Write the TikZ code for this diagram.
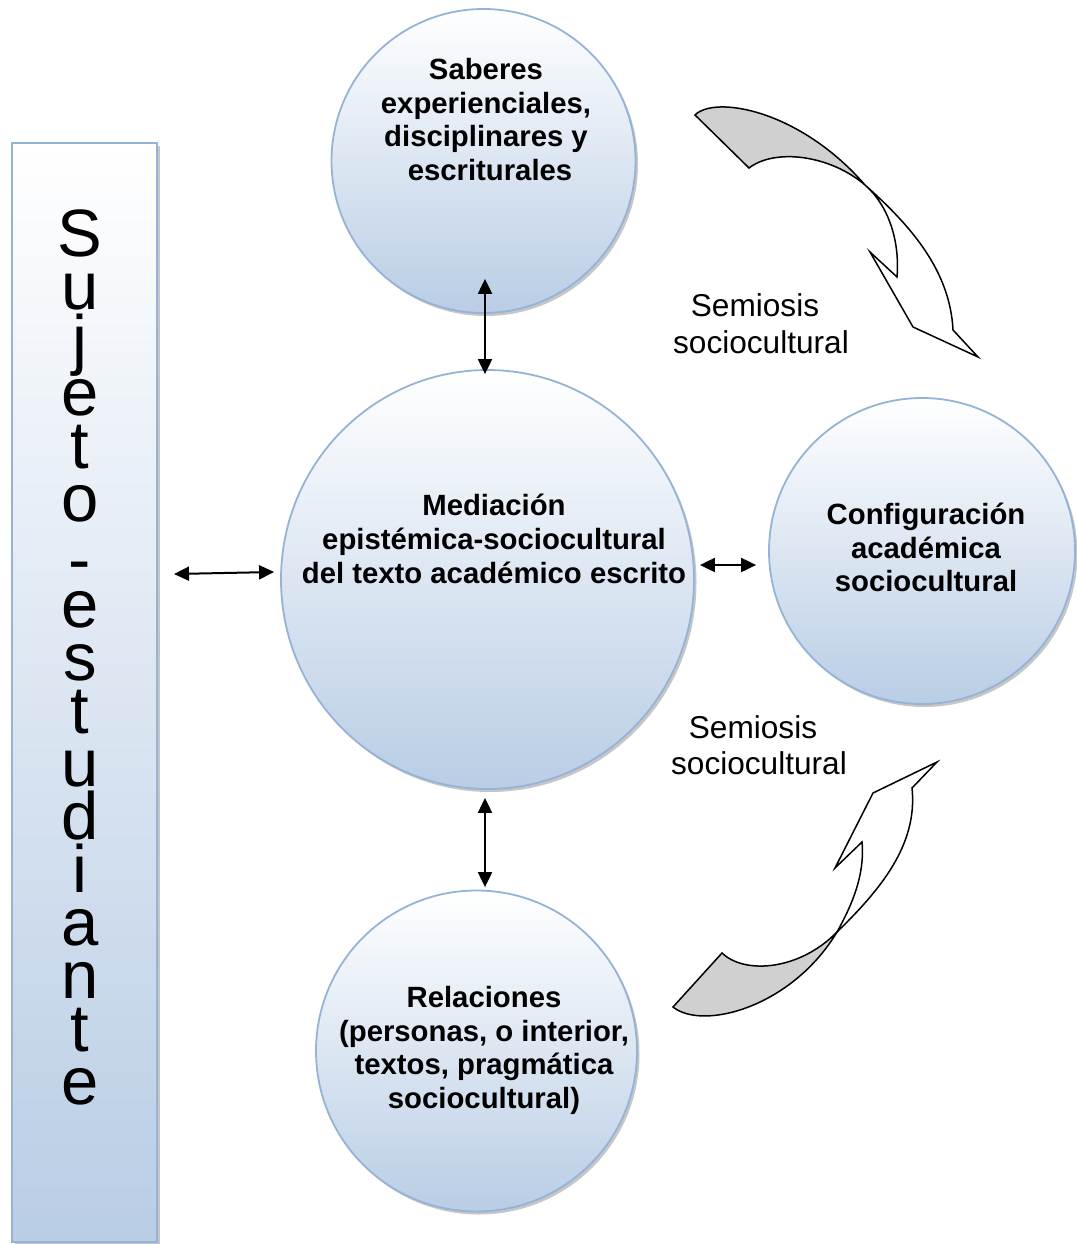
\documentclass[tikz,border=0pt]{standalone}
\usepackage{fontspec}
\setmainfont{Liberation Sans}
\usetikzlibrary{arrows.meta,shadows,shapes.geometric}
\definecolor{ringblue}{RGB}{149,179,215}
\definecolor{fillblue}{RGB}{185,205,229}
\definecolor{tailgray}{RGB}{208,208,208}
\begin{document}
\begin{tikzpicture}[x=1pt,y=-1pt,
  softshadow/.style={drop shadow={shadow xshift=2.5pt, shadow yshift=-3pt, opacity=0.45, fill=black!50}},
  bubble/.style={circle, draw=ringblue, line width=1.8pt, top color=white, bottom color=fillblue,
    inner sep=0pt, softshadow},
  panel/.style={rectangle, draw=ringblue, line width=2pt, top color=white, bottom color=fillblue,
    inner sep=0pt, softshadow},
  bubtext/.style={align=center, inner sep=0pt, font=\bfseries\fontsize{29.3}{33.7}\selectfont},
  semtext/.style={align=center, inner sep=0pt, font=\fontsize{31.6}{36.6}\selectfont},
  stacked/.style={align=center, inner sep=0pt, anchor=north, font=\fontsize{67}{53}\selectfont},
  dblarrow/.style={{Triangle[length=15pt,width=14pt]}-{Triangle[length=15pt,width=14pt]}, line width=2pt},
  tail/.style={draw=black, line width=1.5pt, fill=tailgray, line join=miter},
  body/.style={draw=black, line width=1.5pt, fill=white, line join=miter}]
\useasboundingbox (0,0) rectangle (1076,1244);

% left panel with the stacked title, one letter per line
\node[panel, minimum width=145pt, minimum height=1099pt] (bar) at (84.5,692.5) {};
\node[stacked] (title) at (80,210) {S\\u\\j\\e\\t\\o\\\raisebox{-8pt}{-}\\e\\s\\t\\u\\d\\i\\a\\n\\t\\e};

% circles
\node[bubble, minimum size=304pt] (sab) at (483.5,161) {};
\node[ellipse, draw=ringblue, line width=1.8pt, top color=white, bottom color=fillblue,
  inner sep=0pt, softshadow, minimum width=413pt, minimum height=419pt] (med) at (487.5,579.5) {};
\node[bubble, minimum size=306pt] (conf) at (922,551) {};
\node[bubble, minimum size=321pt] (rel) at (476.5,1051) {};

% circle texts
\node[bubtext] (sabtxt) at (486,119.5) {Saberes\\experienciales,\\disciplinares y\\\hspace*{8pt}escriturales};
\node[bubtext] (medtxt) at (494,539) {Mediación\\epistémica-sociocultural\\del texto académico escrito};
\node[bubtext] (conftxt) at (926,547.5) {Configuración\\académica\\sociocultural};
\node[bubtext] (reltxt) at (484,1050.5) {Relaciones\\(personas, o interior,\\textos, pragmática\\sociocultural)};

% connectors
\draw[dblarrow] ([shift={(16,-118.5)}]bar.east) -- ([shift={(-6,-7.5)}]med.west);
\draw[dblarrow] ([shift={(5,-14.5)}]med.east) -- ([shift={(-12,14)}]conf.west);
\draw[dblarrow] ([shift={(1.5,-35)}]sab.south) -- ([shift={(-2.5,5)}]med.north);
\draw[dblarrow] ([shift={(-2.5,8)}]med.south) -- ([shift={(8.5,-2.5)}]rel.north);

% upper curved arrow
\draw[tail] (695,115) .. controls (715,95) and (800,110) .. (865,185)
  .. controls (830,155) and (775,148) .. (749,168) -- cycle;
\draw[body] (865,185) .. controls (910,225) and (950,270) .. (953,330) -- (978,357) -- (913,327)
  -- (870,252) -- (897,277) .. controls (900,240) and (888,205) .. (865,185) -- cycle;

% lower curved arrow
\draw[tail] (673,1007) .. controls (703,1031) and (792,1007) .. (837,932)
  .. controls (800,970) and (745,975) .. (722,953) -- cycle;
\draw[body] (837,932) .. controls (880,890) and (918,845) .. (912,788) -- (937,762) -- (873,793)
  -- (835,868) -- (862,842) .. controls (865,875) and (852,905) .. (837,932) -- cycle;

% labels
\node[semtext] (sem1) at (761,324) {Semiosis\hspace*{12pt}\\sociocultural};
\node[semtext] (sem2) at (759,745) {Semiosis\hspace*{12pt}\\sociocultural};
\end{tikzpicture}
\end{document}
